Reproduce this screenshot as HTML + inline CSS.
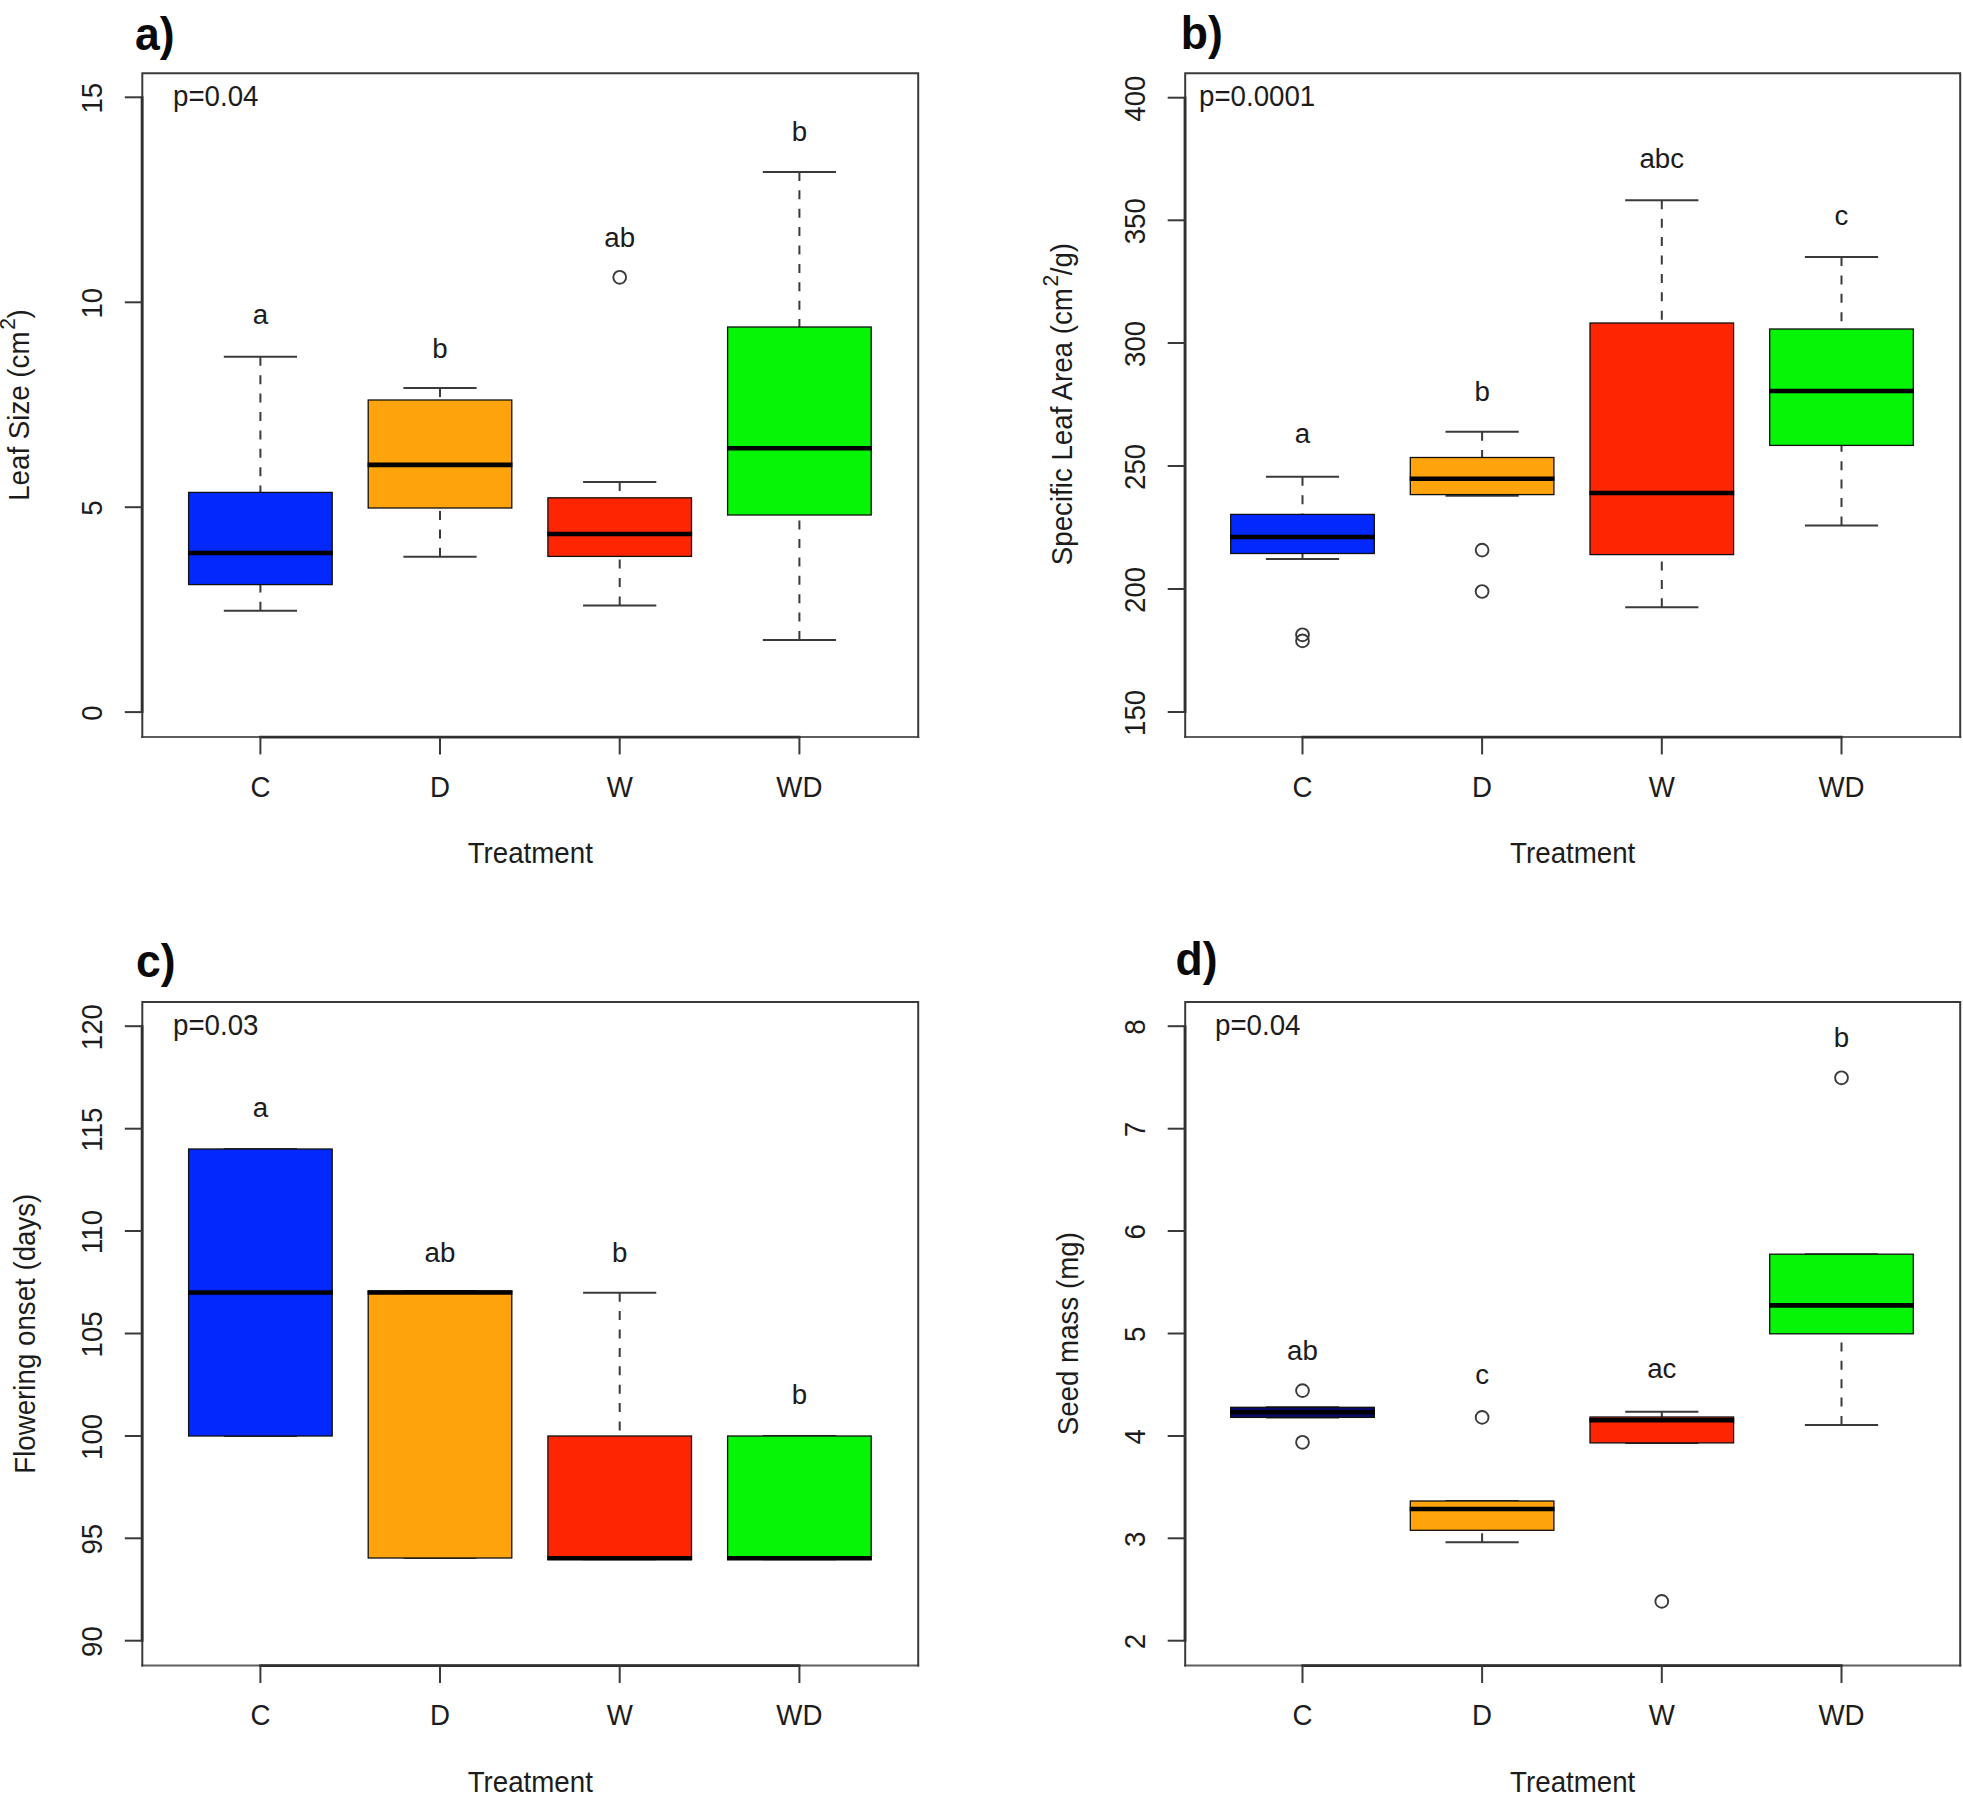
<!DOCTYPE html>
<html><head><meta charset="utf-8"><title>Figure</title>
<style>
html,body{margin:0;padding:0;background:#fff;}
svg{display:block;font-family:"Liberation Sans",sans-serif;}
</style></head>
<body>
<svg width="1963" height="1794" viewBox="0 0 1963 1794">
<rect width="1963" height="1794" fill="#fff"/>
<g>
<text transform="translate(135.1,49.5) scale(1,1.05)" font-size="44.5" font-weight="bold" fill="#0a0a0a">a)</text>
<line x1="260.4" y1="356.8" x2="260.4" y2="492.4" stroke="#3a3a3a" stroke-width="2.0" stroke-dasharray="9 9.4"/>
<line x1="260.4" y1="610.8" x2="260.4" y2="584.6" stroke="#3a3a3a" stroke-width="2.0" stroke-dasharray="9 9.4"/>
<line x1="223.8" y1="356.8" x2="297" y2="356.8" stroke="#3a3a3a" stroke-width="2.0"/>
<line x1="223.8" y1="610.8" x2="297" y2="610.8" stroke="#3a3a3a" stroke-width="2.0"/>
<rect x="188.6" y="492.4" width="143.6" height="92.2" fill="#0328fc" stroke="#101010" stroke-width="1.3"/>
<line x1="188" y1="553" x2="332.8" y2="553" stroke="#000" stroke-width="4.6"/>
<line x1="440" y1="388" x2="440" y2="400" stroke="#3a3a3a" stroke-width="2.0" stroke-dasharray="9 9.4"/>
<line x1="440" y1="556.8" x2="440" y2="508" stroke="#3a3a3a" stroke-width="2.0" stroke-dasharray="9 9.4"/>
<line x1="403.4" y1="388" x2="476.6" y2="388" stroke="#3a3a3a" stroke-width="2.0"/>
<line x1="403.4" y1="556.8" x2="476.6" y2="556.8" stroke="#3a3a3a" stroke-width="2.0"/>
<rect x="368.2" y="400" width="143.6" height="108" fill="#ffa40c" stroke="#101010" stroke-width="1.3"/>
<line x1="367.6" y1="464.9" x2="512.4" y2="464.9" stroke="#000" stroke-width="4.6"/>
<line x1="619.7" y1="482" x2="619.7" y2="497.8" stroke="#3a3a3a" stroke-width="2.0" stroke-dasharray="9 9.4"/>
<line x1="619.7" y1="605.4" x2="619.7" y2="556.4" stroke="#3a3a3a" stroke-width="2.0" stroke-dasharray="9 9.4"/>
<line x1="583.1" y1="482" x2="656.3" y2="482" stroke="#3a3a3a" stroke-width="2.0"/>
<line x1="583.1" y1="605.4" x2="656.3" y2="605.4" stroke="#3a3a3a" stroke-width="2.0"/>
<rect x="547.9" y="497.8" width="143.6" height="58.6" fill="#fe2602" stroke="#101010" stroke-width="1.3"/>
<line x1="547.3" y1="534" x2="692.1" y2="534" stroke="#000" stroke-width="4.6"/>
<circle cx="619.7" cy="277.3" r="6.4" fill="none" stroke="#3a3a3a" stroke-width="1.9"/>
<line x1="799.4" y1="171.9" x2="799.4" y2="327" stroke="#3a3a3a" stroke-width="2.0" stroke-dasharray="9 9.4"/>
<line x1="799.4" y1="640" x2="799.4" y2="515" stroke="#3a3a3a" stroke-width="2.0" stroke-dasharray="9 9.4"/>
<line x1="762.8" y1="171.9" x2="836" y2="171.9" stroke="#3a3a3a" stroke-width="2.0"/>
<line x1="762.8" y1="640" x2="836" y2="640" stroke="#3a3a3a" stroke-width="2.0"/>
<rect x="727.6" y="327" width="143.6" height="188" fill="#06f406" stroke="#101010" stroke-width="1.3"/>
<line x1="727" y1="448.2" x2="871.8" y2="448.2" stroke="#000" stroke-width="4.6"/>
<line x1="142.3" y1="736.9" x2="918.2" y2="736.9" stroke="#5e5e5e" stroke-width="2.0" stroke-linecap="square"/>
<polyline points="142.3,736.9 142.3,73.2 918.2,73.2 918.2,736.9" fill="none" stroke="#3a3a3a" stroke-width="2.0" stroke-linecap="square" stroke-linejoin="miter"/>
<line x1="142.1" y1="96.3" x2="142.1" y2="713.1" stroke="#303030" stroke-width="2.8"/>
<line x1="259.4" y1="737.1" x2="800.4" y2="737.1" stroke="#303030" stroke-width="2.8"/>
<line x1="124.8" y1="97.3" x2="142.3" y2="97.3" stroke="#3a3a3a" stroke-width="2.0"/>
<text transform="translate(101.9,98.2) rotate(-90) scale(1,1.06)" text-anchor="middle" font-size="27.7" fill="#1c1c1c">15</text>
<line x1="124.8" y1="302.3" x2="142.3" y2="302.3" stroke="#3a3a3a" stroke-width="2.0"/>
<text transform="translate(101.9,303.2) rotate(-90) scale(1,1.06)" text-anchor="middle" font-size="27.7" fill="#1c1c1c">10</text>
<line x1="124.8" y1="507.2" x2="142.3" y2="507.2" stroke="#3a3a3a" stroke-width="2.0"/>
<text transform="translate(101.9,508.1) rotate(-90) scale(1,1.06)" text-anchor="middle" font-size="27.7" fill="#1c1c1c">5</text>
<line x1="124.8" y1="712.1" x2="142.3" y2="712.1" stroke="#3a3a3a" stroke-width="2.0"/>
<text transform="translate(101.9,713) rotate(-90) scale(1,1.06)" text-anchor="middle" font-size="27.7" fill="#1c1c1c">0</text>
<line x1="260.4" y1="736.9" x2="260.4" y2="754.4" stroke="#3a3a3a" stroke-width="2.0"/>
<text transform="translate(260.4,796.8) scale(1,1.09)" text-anchor="middle" font-size="27.7" fill="#1c1c1c">C</text>
<line x1="440" y1="736.9" x2="440" y2="754.4" stroke="#3a3a3a" stroke-width="2.0"/>
<text transform="translate(440,796.8) scale(1,1.09)" text-anchor="middle" font-size="27.7" fill="#1c1c1c">D</text>
<line x1="619.7" y1="736.9" x2="619.7" y2="754.4" stroke="#3a3a3a" stroke-width="2.0"/>
<text transform="translate(619.7,796.8) scale(1,1.09)" text-anchor="middle" font-size="27.7" fill="#1c1c1c">W</text>
<line x1="799.4" y1="736.9" x2="799.4" y2="754.4" stroke="#3a3a3a" stroke-width="2.0"/>
<text transform="translate(799.4,796.8) scale(1,1.09)" text-anchor="middle" font-size="27.7" fill="#1c1c1c">WD</text>
<text transform="translate(530.25,862.9) scale(1,1.06)" text-anchor="middle" font-size="27.7" fill="#1c1c1c">Treatment</text>
<text transform="translate(29.1,405.05) rotate(-90) scale(1,1.06)" text-anchor="middle" font-size="27.7" fill="#1c1c1c">Leaf Size (cm<tspan font-size="21" dy="-13.5" dx="1.8">2</tspan><tspan dy="13.5" dx="-0.5">)</tspan></text>
<text transform="translate(173,106.2) scale(1,1.06)" text-anchor="start" font-size="27.7" fill="#1c1c1c">p=0.04</text>
<text transform="translate(260.4,324.2)" text-anchor="middle" font-size="27.7" fill="#1c1c1c">a</text>
<text transform="translate(440,358.2)" text-anchor="middle" font-size="27.7" fill="#1c1c1c">b</text>
<text transform="translate(619.7,247)" text-anchor="middle" font-size="27.7" fill="#1c1c1c">ab</text>
<text transform="translate(799.4,141)" text-anchor="middle" font-size="27.7" fill="#1c1c1c">b</text>
</g>
<g>
<text transform="translate(1180.8,49) scale(1,1.05)" font-size="44.5" font-weight="bold" fill="#0a0a0a">b)</text>
<line x1="1302.5" y1="476.8" x2="1302.5" y2="514.4" stroke="#3a3a3a" stroke-width="2.0" stroke-dasharray="9 9.4"/>
<line x1="1302.5" y1="559" x2="1302.5" y2="553.5" stroke="#3a3a3a" stroke-width="2.0" stroke-dasharray="9 9.4"/>
<line x1="1265.9" y1="476.8" x2="1339.1" y2="476.8" stroke="#3a3a3a" stroke-width="2.0"/>
<line x1="1265.9" y1="559" x2="1339.1" y2="559" stroke="#3a3a3a" stroke-width="2.0"/>
<rect x="1230.7" y="514.4" width="143.6" height="39.1" fill="#0328fc" stroke="#101010" stroke-width="1.3"/>
<line x1="1230.1" y1="537" x2="1374.9" y2="537" stroke="#000" stroke-width="4.6"/>
<circle cx="1302.5" cy="634.8" r="6.4" fill="none" stroke="#3a3a3a" stroke-width="1.9"/>
<circle cx="1302.5" cy="640.9" r="6.4" fill="none" stroke="#3a3a3a" stroke-width="1.9"/>
<line x1="1482.1" y1="431.7" x2="1482.1" y2="457.5" stroke="#3a3a3a" stroke-width="2.0" stroke-dasharray="9 9.4"/>
<line x1="1482.1" y1="495.7" x2="1482.1" y2="494.6" stroke="#3a3a3a" stroke-width="2.0" stroke-dasharray="9 9.4"/>
<line x1="1445.5" y1="431.7" x2="1518.7" y2="431.7" stroke="#3a3a3a" stroke-width="2.0"/>
<line x1="1445.5" y1="495.7" x2="1518.7" y2="495.7" stroke="#3a3a3a" stroke-width="2.0"/>
<rect x="1410.3" y="457.5" width="143.6" height="37.1" fill="#ffa40c" stroke="#101010" stroke-width="1.3"/>
<line x1="1409.7" y1="478.8" x2="1554.5" y2="478.8" stroke="#000" stroke-width="4.6"/>
<circle cx="1482.1" cy="550.1" r="6.4" fill="none" stroke="#3a3a3a" stroke-width="1.9"/>
<circle cx="1482.1" cy="591.5" r="6.4" fill="none" stroke="#3a3a3a" stroke-width="1.9"/>
<line x1="1661.8" y1="200.3" x2="1661.8" y2="323" stroke="#3a3a3a" stroke-width="2.0" stroke-dasharray="9 9.4"/>
<line x1="1661.8" y1="607.3" x2="1661.8" y2="554.6" stroke="#3a3a3a" stroke-width="2.0" stroke-dasharray="9 9.4"/>
<line x1="1625.2" y1="200.3" x2="1698.4" y2="200.3" stroke="#3a3a3a" stroke-width="2.0"/>
<line x1="1625.2" y1="607.3" x2="1698.4" y2="607.3" stroke="#3a3a3a" stroke-width="2.0"/>
<rect x="1590" y="323" width="143.6" height="231.6" fill="#fe2602" stroke="#101010" stroke-width="1.3"/>
<line x1="1589.4" y1="493" x2="1734.2" y2="493" stroke="#000" stroke-width="4.6"/>
<line x1="1841.5" y1="257" x2="1841.5" y2="329" stroke="#3a3a3a" stroke-width="2.0" stroke-dasharray="9 9.4"/>
<line x1="1841.5" y1="525.4" x2="1841.5" y2="445.4" stroke="#3a3a3a" stroke-width="2.0" stroke-dasharray="9 9.4"/>
<line x1="1804.9" y1="257" x2="1878.1" y2="257" stroke="#3a3a3a" stroke-width="2.0"/>
<line x1="1804.9" y1="525.4" x2="1878.1" y2="525.4" stroke="#3a3a3a" stroke-width="2.0"/>
<rect x="1769.7" y="329" width="143.6" height="116.4" fill="#06f406" stroke="#101010" stroke-width="1.3"/>
<line x1="1769.1" y1="391" x2="1913.9" y2="391" stroke="#000" stroke-width="4.6"/>
<line x1="1185.2" y1="736.9" x2="1960.2" y2="736.9" stroke="#5e5e5e" stroke-width="2.0" stroke-linecap="square"/>
<polyline points="1185.2,736.9 1185.2,73.2 1960.2,73.2 1960.2,736.9" fill="none" stroke="#3a3a3a" stroke-width="2.0" stroke-linecap="square" stroke-linejoin="miter"/>
<line x1="1185" y1="96.7" x2="1185" y2="713" stroke="#303030" stroke-width="2.8"/>
<line x1="1301.5" y1="737.1" x2="1842.5" y2="737.1" stroke="#303030" stroke-width="2.8"/>
<line x1="1167.7" y1="97.7" x2="1185.2" y2="97.7" stroke="#3a3a3a" stroke-width="2.0"/>
<text transform="translate(1144.8,98.6) rotate(-90) scale(1,1.06)" text-anchor="middle" font-size="27.7" fill="#1c1c1c">400</text>
<line x1="1167.7" y1="220.3" x2="1185.2" y2="220.3" stroke="#3a3a3a" stroke-width="2.0"/>
<text transform="translate(1144.8,221.2) rotate(-90) scale(1,1.06)" text-anchor="middle" font-size="27.7" fill="#1c1c1c">350</text>
<line x1="1167.7" y1="343" x2="1185.2" y2="343" stroke="#3a3a3a" stroke-width="2.0"/>
<text transform="translate(1144.8,343.9) rotate(-90) scale(1,1.06)" text-anchor="middle" font-size="27.7" fill="#1c1c1c">300</text>
<line x1="1167.7" y1="466" x2="1185.2" y2="466" stroke="#3a3a3a" stroke-width="2.0"/>
<text transform="translate(1144.8,466.9) rotate(-90) scale(1,1.06)" text-anchor="middle" font-size="27.7" fill="#1c1c1c">250</text>
<line x1="1167.7" y1="589" x2="1185.2" y2="589" stroke="#3a3a3a" stroke-width="2.0"/>
<text transform="translate(1144.8,589.9) rotate(-90) scale(1,1.06)" text-anchor="middle" font-size="27.7" fill="#1c1c1c">200</text>
<line x1="1167.7" y1="712" x2="1185.2" y2="712" stroke="#3a3a3a" stroke-width="2.0"/>
<text transform="translate(1144.8,712.9) rotate(-90) scale(1,1.06)" text-anchor="middle" font-size="27.7" fill="#1c1c1c">150</text>
<line x1="1302.5" y1="736.9" x2="1302.5" y2="754.4" stroke="#3a3a3a" stroke-width="2.0"/>
<text transform="translate(1302.5,796.8) scale(1,1.09)" text-anchor="middle" font-size="27.7" fill="#1c1c1c">C</text>
<line x1="1482.1" y1="736.9" x2="1482.1" y2="754.4" stroke="#3a3a3a" stroke-width="2.0"/>
<text transform="translate(1482.1,796.8) scale(1,1.09)" text-anchor="middle" font-size="27.7" fill="#1c1c1c">D</text>
<line x1="1661.8" y1="736.9" x2="1661.8" y2="754.4" stroke="#3a3a3a" stroke-width="2.0"/>
<text transform="translate(1661.8,796.8) scale(1,1.09)" text-anchor="middle" font-size="27.7" fill="#1c1c1c">W</text>
<line x1="1841.5" y1="736.9" x2="1841.5" y2="754.4" stroke="#3a3a3a" stroke-width="2.0"/>
<text transform="translate(1841.5,796.8) scale(1,1.09)" text-anchor="middle" font-size="27.7" fill="#1c1c1c">WD</text>
<text transform="translate(1572.7,862.9) scale(1,1.06)" text-anchor="middle" font-size="27.7" fill="#1c1c1c">Treatment</text>
<text transform="translate(1072,404.05) rotate(-90) scale(1,1.06)" text-anchor="middle" font-size="27.7" fill="#1c1c1c">Specific Leaf Area (cm<tspan font-size="21" dy="-13.5" dx="1.8">2</tspan><tspan dy="13.5" dx="-0.5">/g)</tspan></text>
<text transform="translate(1199,106.2) scale(1,1.06)" text-anchor="start" font-size="27.7" fill="#1c1c1c">p=0.0001</text>
<text transform="translate(1302.5,442.7)" text-anchor="middle" font-size="27.7" fill="#1c1c1c">a</text>
<text transform="translate(1482.1,401)" text-anchor="middle" font-size="27.7" fill="#1c1c1c">b</text>
<text transform="translate(1661.8,168)" text-anchor="middle" font-size="27.7" fill="#1c1c1c">abc</text>
<text transform="translate(1841.5,224.5)" text-anchor="middle" font-size="27.7" fill="#1c1c1c">c</text>
</g>
<g>
<text transform="translate(136,977.2) scale(1,1.05)" font-size="44.5" font-weight="bold" fill="#0a0a0a">c)</text>
<line x1="223.8" y1="1149" x2="297" y2="1149" stroke="#3a3a3a" stroke-width="2.0"/>
<line x1="223.8" y1="1436" x2="297" y2="1436" stroke="#3a3a3a" stroke-width="2.0"/>
<rect x="188.6" y="1149" width="143.6" height="287" fill="#0328fc" stroke="#101010" stroke-width="1.3"/>
<line x1="188" y1="1292.5" x2="332.8" y2="1292.5" stroke="#000" stroke-width="4.6"/>
<line x1="403.4" y1="1291" x2="476.6" y2="1291" stroke="#3a3a3a" stroke-width="2.0"/>
<line x1="403.4" y1="1558" x2="476.6" y2="1558" stroke="#3a3a3a" stroke-width="2.0"/>
<rect x="368.2" y="1291" width="143.6" height="267" fill="#ffa40c" stroke="#101010" stroke-width="1.3"/>
<line x1="367.6" y1="1292.5" x2="512.4" y2="1292.5" stroke="#000" stroke-width="4.6"/>
<line x1="619.7" y1="1292.7" x2="619.7" y2="1436" stroke="#3a3a3a" stroke-width="2.0" stroke-dasharray="9 9.4"/>
<line x1="583.1" y1="1292.7" x2="656.3" y2="1292.7" stroke="#3a3a3a" stroke-width="2.0"/>
<line x1="583.1" y1="1559.3" x2="656.3" y2="1559.3" stroke="#3a3a3a" stroke-width="2.0"/>
<rect x="547.9" y="1436" width="143.6" height="123.3" fill="#fe2602" stroke="#101010" stroke-width="1.3"/>
<line x1="547.3" y1="1558.3" x2="692.1" y2="1558.3" stroke="#000" stroke-width="4.6"/>
<line x1="762.8" y1="1436" x2="836" y2="1436" stroke="#3a3a3a" stroke-width="2.0"/>
<line x1="762.8" y1="1559.3" x2="836" y2="1559.3" stroke="#3a3a3a" stroke-width="2.0"/>
<rect x="727.6" y="1436" width="143.6" height="123.3" fill="#06f406" stroke="#101010" stroke-width="1.3"/>
<line x1="727" y1="1558.3" x2="871.8" y2="1558.3" stroke="#000" stroke-width="4.6"/>
<line x1="142.3" y1="1665.5" x2="918.2" y2="1665.5" stroke="#5e5e5e" stroke-width="2.0" stroke-linecap="square"/>
<polyline points="142.3,1665.5 142.3,1001.9 918.2,1001.9 918.2,1665.5" fill="none" stroke="#3a3a3a" stroke-width="2.0" stroke-linecap="square" stroke-linejoin="miter"/>
<line x1="142.1" y1="1025.2" x2="142.1" y2="1641.7" stroke="#303030" stroke-width="2.8"/>
<line x1="259.4" y1="1665.7" x2="800.4" y2="1665.7" stroke="#303030" stroke-width="2.8"/>
<line x1="124.8" y1="1026.2" x2="142.3" y2="1026.2" stroke="#3a3a3a" stroke-width="2.0"/>
<text transform="translate(101.9,1027.1) rotate(-90) scale(1,1.06)" text-anchor="middle" font-size="27.7" fill="#1c1c1c">120</text>
<line x1="124.8" y1="1128.7" x2="142.3" y2="1128.7" stroke="#3a3a3a" stroke-width="2.0"/>
<text transform="translate(101.9,1129.6) rotate(-90) scale(1,1.06)" text-anchor="middle" font-size="27.7" fill="#1c1c1c">115</text>
<line x1="124.8" y1="1231" x2="142.3" y2="1231" stroke="#3a3a3a" stroke-width="2.0"/>
<text transform="translate(101.9,1231.9) rotate(-90) scale(1,1.06)" text-anchor="middle" font-size="27.7" fill="#1c1c1c">110</text>
<line x1="124.8" y1="1333.5" x2="142.3" y2="1333.5" stroke="#3a3a3a" stroke-width="2.0"/>
<text transform="translate(101.9,1334.4) rotate(-90) scale(1,1.06)" text-anchor="middle" font-size="27.7" fill="#1c1c1c">105</text>
<line x1="124.8" y1="1436" x2="142.3" y2="1436" stroke="#3a3a3a" stroke-width="2.0"/>
<text transform="translate(101.9,1436.9) rotate(-90) scale(1,1.06)" text-anchor="middle" font-size="27.7" fill="#1c1c1c">100</text>
<line x1="124.8" y1="1538.3" x2="142.3" y2="1538.3" stroke="#3a3a3a" stroke-width="2.0"/>
<text transform="translate(101.9,1539.2) rotate(-90) scale(1,1.06)" text-anchor="middle" font-size="27.7" fill="#1c1c1c">95</text>
<line x1="124.8" y1="1640.7" x2="142.3" y2="1640.7" stroke="#3a3a3a" stroke-width="2.0"/>
<text transform="translate(101.9,1641.6) rotate(-90) scale(1,1.06)" text-anchor="middle" font-size="27.7" fill="#1c1c1c">90</text>
<line x1="260.4" y1="1665.5" x2="260.4" y2="1683" stroke="#3a3a3a" stroke-width="2.0"/>
<text transform="translate(260.4,1725.4) scale(1,1.09)" text-anchor="middle" font-size="27.7" fill="#1c1c1c">C</text>
<line x1="440" y1="1665.5" x2="440" y2="1683" stroke="#3a3a3a" stroke-width="2.0"/>
<text transform="translate(440,1725.4) scale(1,1.09)" text-anchor="middle" font-size="27.7" fill="#1c1c1c">D</text>
<line x1="619.7" y1="1665.5" x2="619.7" y2="1683" stroke="#3a3a3a" stroke-width="2.0"/>
<text transform="translate(619.7,1725.4) scale(1,1.09)" text-anchor="middle" font-size="27.7" fill="#1c1c1c">W</text>
<line x1="799.4" y1="1665.5" x2="799.4" y2="1683" stroke="#3a3a3a" stroke-width="2.0"/>
<text transform="translate(799.4,1725.4) scale(1,1.09)" text-anchor="middle" font-size="27.7" fill="#1c1c1c">WD</text>
<text transform="translate(530.25,1791.5) scale(1,1.06)" text-anchor="middle" font-size="27.7" fill="#1c1c1c">Treatment</text>
<text transform="translate(35.3,1333.7) rotate(-90) scale(1,1.06)" text-anchor="middle" font-size="27.7" fill="#1c1c1c">Flowering onset (days)</text>
<text transform="translate(173,1034.9) scale(1,1.06)" text-anchor="start" font-size="27.7" fill="#1c1c1c">p=0.03</text>
<text transform="translate(260.4,1117)" text-anchor="middle" font-size="27.7" fill="#1c1c1c">a</text>
<text transform="translate(440,1262)" text-anchor="middle" font-size="27.7" fill="#1c1c1c">ab</text>
<text transform="translate(619.7,1262)" text-anchor="middle" font-size="27.7" fill="#1c1c1c">b</text>
<text transform="translate(799.4,1404)" text-anchor="middle" font-size="27.7" fill="#1c1c1c">b</text>
</g>
<g>
<text transform="translate(1175.6,974.7) scale(1,1.05)" font-size="44.5" font-weight="bold" fill="#0a0a0a">d)</text>
<line x1="1265.9" y1="1407.3" x2="1339.1" y2="1407.3" stroke="#3a3a3a" stroke-width="2.0"/>
<line x1="1265.9" y1="1417.4" x2="1339.1" y2="1417.4" stroke="#3a3a3a" stroke-width="2.0"/>
<rect x="1230.7" y="1407.3" width="143.6" height="10.1" fill="#0a0a6e" stroke="#101010" stroke-width="1.3"/>
<line x1="1230.1" y1="1412.3" x2="1374.9" y2="1412.3" stroke="#000" stroke-width="4.6"/>
<circle cx="1302.5" cy="1390.6" r="6.4" fill="none" stroke="#3a3a3a" stroke-width="1.9"/>
<circle cx="1302.5" cy="1442.3" r="6.4" fill="none" stroke="#3a3a3a" stroke-width="1.9"/>
<line x1="1482.1" y1="1542.3" x2="1482.1" y2="1530.3" stroke="#3a3a3a" stroke-width="2.0" stroke-dasharray="9 9.4"/>
<line x1="1445.5" y1="1501" x2="1518.7" y2="1501" stroke="#3a3a3a" stroke-width="2.0"/>
<line x1="1445.5" y1="1542.3" x2="1518.7" y2="1542.3" stroke="#3a3a3a" stroke-width="2.0"/>
<rect x="1410.3" y="1501" width="143.6" height="29.3" fill="#ffa40c" stroke="#101010" stroke-width="1.3"/>
<line x1="1409.7" y1="1509" x2="1554.5" y2="1509" stroke="#000" stroke-width="4.6"/>
<circle cx="1482.1" cy="1417.4" r="6.4" fill="none" stroke="#3a3a3a" stroke-width="1.9"/>
<line x1="1661.8" y1="1411.7" x2="1661.8" y2="1417" stroke="#3a3a3a" stroke-width="2.0" stroke-dasharray="9 9.4"/>
<line x1="1625.2" y1="1411.7" x2="1698.4" y2="1411.7" stroke="#3a3a3a" stroke-width="2.0"/>
<line x1="1625.2" y1="1442.9" x2="1698.4" y2="1442.9" stroke="#3a3a3a" stroke-width="2.0"/>
<rect x="1590" y="1417" width="143.6" height="25.9" fill="#fe2602" stroke="#101010" stroke-width="1.3"/>
<line x1="1589.4" y1="1420.3" x2="1734.2" y2="1420.3" stroke="#000" stroke-width="4.6"/>
<circle cx="1661.8" cy="1601.4" r="6.4" fill="none" stroke="#3a3a3a" stroke-width="1.9"/>
<line x1="1841.5" y1="1425" x2="1841.5" y2="1333.8" stroke="#3a3a3a" stroke-width="2.0" stroke-dasharray="9 9.4"/>
<line x1="1804.9" y1="1254.2" x2="1878.1" y2="1254.2" stroke="#3a3a3a" stroke-width="2.0"/>
<line x1="1804.9" y1="1425" x2="1878.1" y2="1425" stroke="#3a3a3a" stroke-width="2.0"/>
<rect x="1769.7" y="1254.2" width="143.6" height="79.6" fill="#06f406" stroke="#101010" stroke-width="1.3"/>
<line x1="1769.1" y1="1305.4" x2="1913.9" y2="1305.4" stroke="#000" stroke-width="4.6"/>
<circle cx="1841.5" cy="1077.8" r="6.4" fill="none" stroke="#3a3a3a" stroke-width="1.9"/>
<line x1="1185.2" y1="1665.5" x2="1960.2" y2="1665.5" stroke="#5e5e5e" stroke-width="2.0" stroke-linecap="square"/>
<polyline points="1185.2,1665.5 1185.2,1001.9 1960.2,1001.9 1960.2,1665.5" fill="none" stroke="#3a3a3a" stroke-width="2.0" stroke-linecap="square" stroke-linejoin="miter"/>
<line x1="1185" y1="1025.2" x2="1185" y2="1641.7" stroke="#303030" stroke-width="2.8"/>
<line x1="1301.5" y1="1665.7" x2="1842.5" y2="1665.7" stroke="#303030" stroke-width="2.8"/>
<line x1="1167.7" y1="1026.2" x2="1185.2" y2="1026.2" stroke="#3a3a3a" stroke-width="2.0"/>
<text transform="translate(1144.8,1027.1) rotate(-90) scale(1,1.06)" text-anchor="middle" font-size="27.7" fill="#1c1c1c">8</text>
<line x1="1167.7" y1="1128.7" x2="1185.2" y2="1128.7" stroke="#3a3a3a" stroke-width="2.0"/>
<text transform="translate(1144.8,1129.6) rotate(-90) scale(1,1.06)" text-anchor="middle" font-size="27.7" fill="#1c1c1c">7</text>
<line x1="1167.7" y1="1231" x2="1185.2" y2="1231" stroke="#3a3a3a" stroke-width="2.0"/>
<text transform="translate(1144.8,1231.9) rotate(-90) scale(1,1.06)" text-anchor="middle" font-size="27.7" fill="#1c1c1c">6</text>
<line x1="1167.7" y1="1333.5" x2="1185.2" y2="1333.5" stroke="#3a3a3a" stroke-width="2.0"/>
<text transform="translate(1144.8,1334.4) rotate(-90) scale(1,1.06)" text-anchor="middle" font-size="27.7" fill="#1c1c1c">5</text>
<line x1="1167.7" y1="1436" x2="1185.2" y2="1436" stroke="#3a3a3a" stroke-width="2.0"/>
<text transform="translate(1144.8,1436.9) rotate(-90) scale(1,1.06)" text-anchor="middle" font-size="27.7" fill="#1c1c1c">4</text>
<line x1="1167.7" y1="1538.3" x2="1185.2" y2="1538.3" stroke="#3a3a3a" stroke-width="2.0"/>
<text transform="translate(1144.8,1539.2) rotate(-90) scale(1,1.06)" text-anchor="middle" font-size="27.7" fill="#1c1c1c">3</text>
<line x1="1167.7" y1="1640.7" x2="1185.2" y2="1640.7" stroke="#3a3a3a" stroke-width="2.0"/>
<text transform="translate(1144.8,1641.6) rotate(-90) scale(1,1.06)" text-anchor="middle" font-size="27.7" fill="#1c1c1c">2</text>
<line x1="1302.5" y1="1665.5" x2="1302.5" y2="1683" stroke="#3a3a3a" stroke-width="2.0"/>
<text transform="translate(1302.5,1725.4) scale(1,1.09)" text-anchor="middle" font-size="27.7" fill="#1c1c1c">C</text>
<line x1="1482.1" y1="1665.5" x2="1482.1" y2="1683" stroke="#3a3a3a" stroke-width="2.0"/>
<text transform="translate(1482.1,1725.4) scale(1,1.09)" text-anchor="middle" font-size="27.7" fill="#1c1c1c">D</text>
<line x1="1661.8" y1="1665.5" x2="1661.8" y2="1683" stroke="#3a3a3a" stroke-width="2.0"/>
<text transform="translate(1661.8,1725.4) scale(1,1.09)" text-anchor="middle" font-size="27.7" fill="#1c1c1c">W</text>
<line x1="1841.5" y1="1665.5" x2="1841.5" y2="1683" stroke="#3a3a3a" stroke-width="2.0"/>
<text transform="translate(1841.5,1725.4) scale(1,1.09)" text-anchor="middle" font-size="27.7" fill="#1c1c1c">WD</text>
<text transform="translate(1572.7,1791.5) scale(1,1.06)" text-anchor="middle" font-size="27.7" fill="#1c1c1c">Treatment</text>
<text transform="translate(1077.9,1333.7) rotate(-90) scale(1,1.06)" text-anchor="middle" font-size="27.7" fill="#1c1c1c">Seed mass (mg)</text>
<text transform="translate(1215,1034.9) scale(1,1.06)" text-anchor="start" font-size="27.7" fill="#1c1c1c">p=0.04</text>
<text transform="translate(1302.5,1359.6)" text-anchor="middle" font-size="27.7" fill="#1c1c1c">ab</text>
<text transform="translate(1482.1,1383.6)" text-anchor="middle" font-size="27.7" fill="#1c1c1c">c</text>
<text transform="translate(1661.8,1378.3)" text-anchor="middle" font-size="27.7" fill="#1c1c1c">ac</text>
<text transform="translate(1841.5,1046.8)" text-anchor="middle" font-size="27.7" fill="#1c1c1c">b</text>
</g>
</svg>
</body></html>
